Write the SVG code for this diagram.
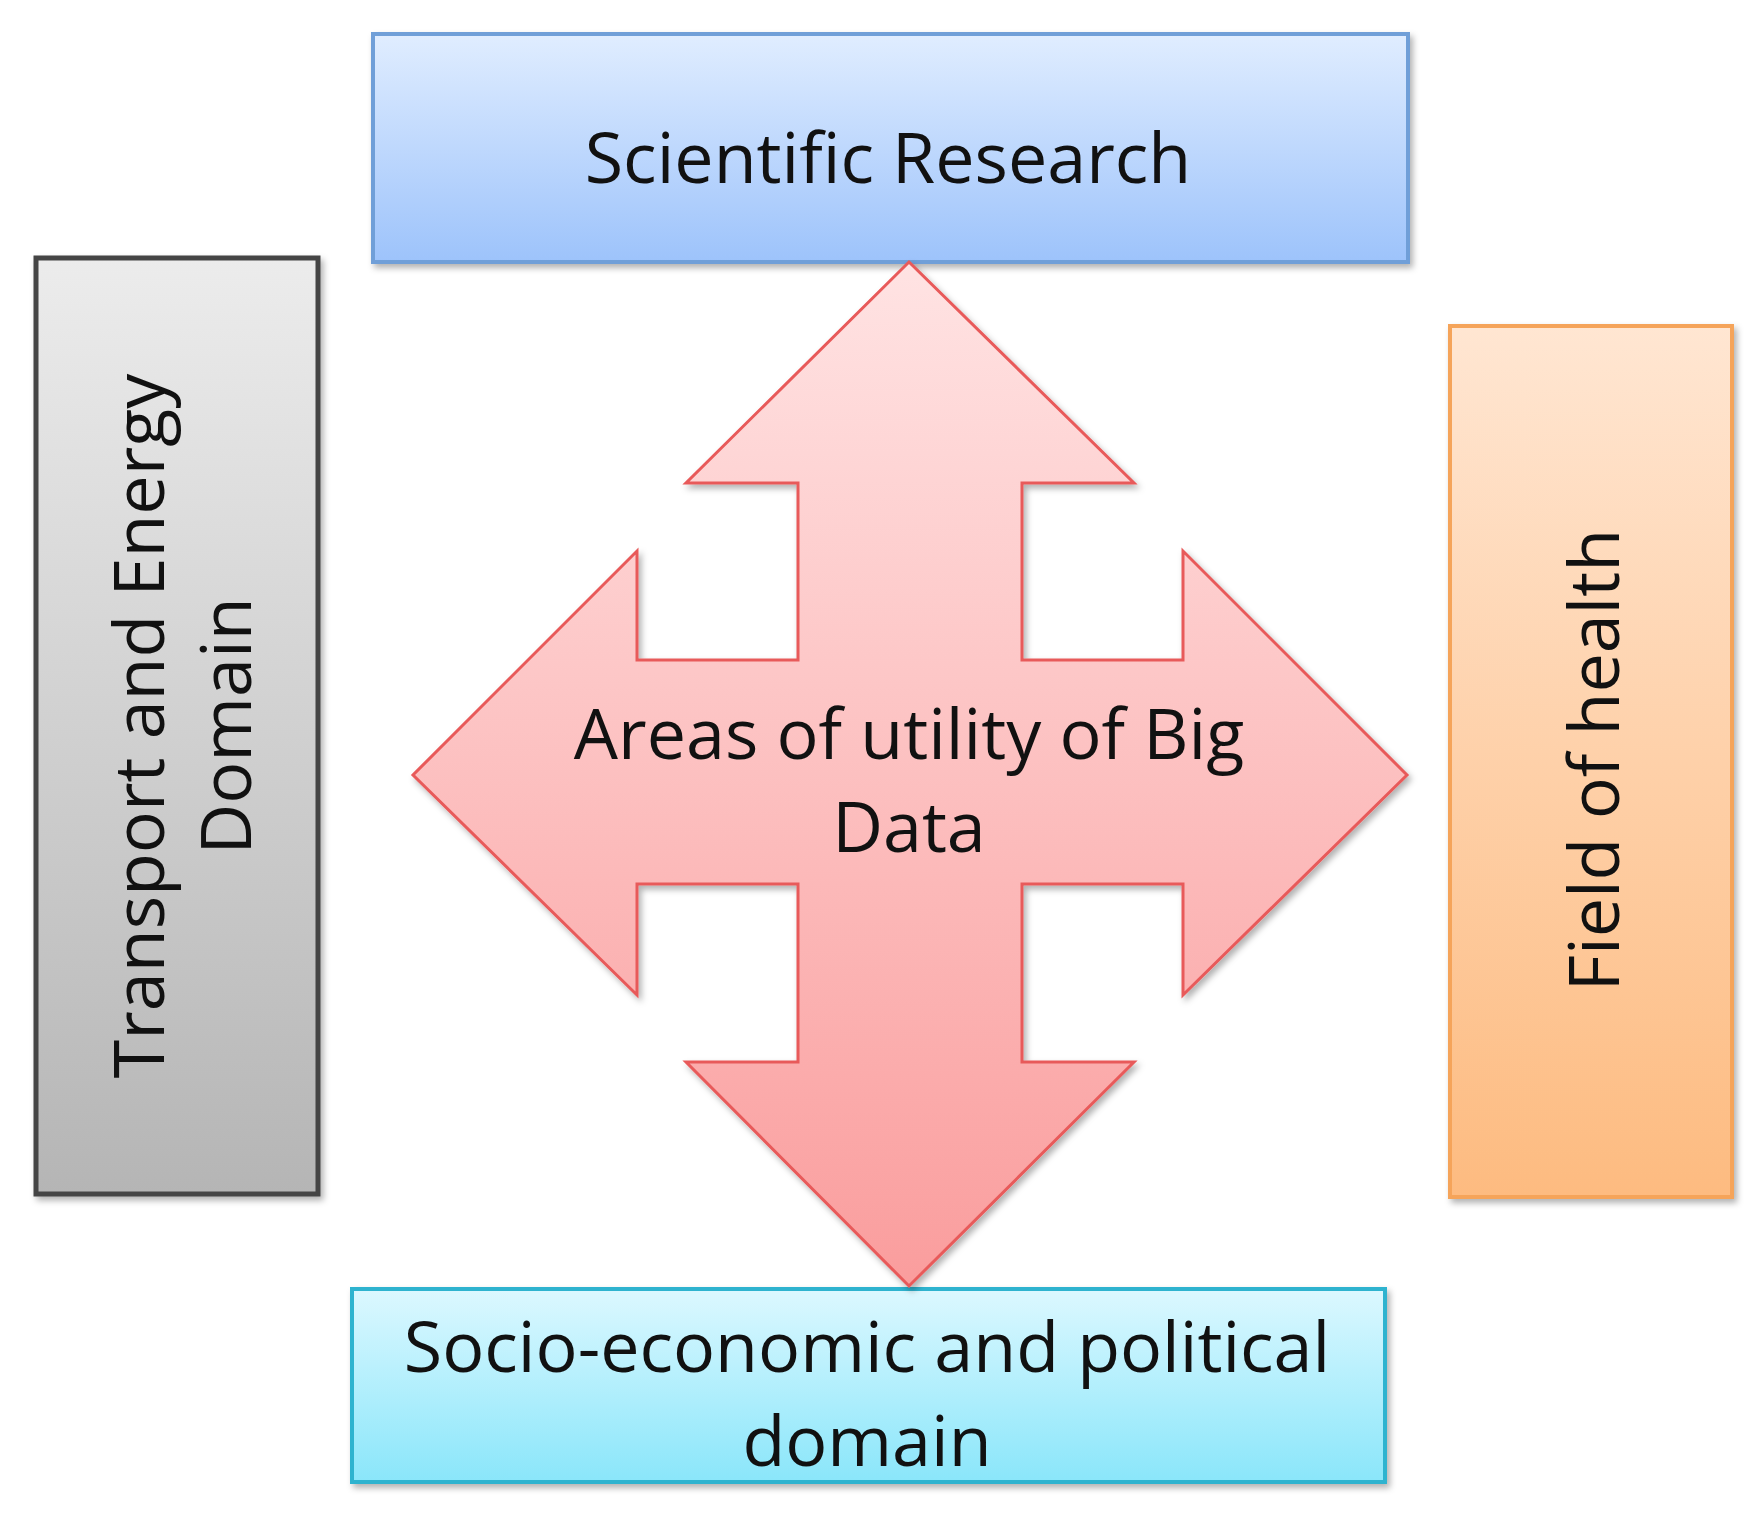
<svg xmlns="http://www.w3.org/2000/svg" width="1764" height="1517" viewBox="0 0 1764 1517">
<defs>
<linearGradient id="gB" x1="0" y1="0" x2="0" y2="1"><stop offset="0" stop-color="#e0edff"/><stop offset="1" stop-color="#9dc3fb"/></linearGradient>
<linearGradient id="gG" x1="0" y1="0" x2="0" y2="1"><stop offset="0" stop-color="#ececec"/><stop offset="1" stop-color="#b5b5b5"/></linearGradient>
<linearGradient id="gO" x1="0" y1="0" x2="0" y2="1"><stop offset="0" stop-color="#ffe6d2"/><stop offset="1" stop-color="#fdbb80"/></linearGradient>
<linearGradient id="gC" x1="0" y1="0" x2="0" y2="1"><stop offset="0" stop-color="#dcf8ff"/><stop offset="1" stop-color="#8ae6fa"/></linearGradient>
<linearGradient id="gR" x1="0" y1="0" x2="0" y2="1"><stop offset="0" stop-color="#ffe3e3"/><stop offset="1" stop-color="#fa9d9d"/></linearGradient>
<filter id="sh" x="-5%" y="-5%" width="115%" height="115%"><feDropShadow dx="3" dy="4" stdDeviation="3" flood-color="#000" flood-opacity="0.3"/></filter>
</defs>
<style>
text{font-family:"Open Sans","Liberation Sans",sans-serif;font-size:70px;fill:#111;text-anchor:middle}
</style>
<rect width="1764" height="1517" fill="#fff"/>
<g id="scientific"><rect x="373" y="34" width="1035" height="228" fill="url(#gB)" stroke="#6f9fd8" stroke-width="4" filter="url(#sh)"/><text x="888" y="183">Scientific Research</text></g>
<g id="transport"><rect x="36" y="258" width="282" height="936" fill="url(#gG)" stroke="#444" stroke-width="5" filter="url(#sh)"/><text transform="translate(164,726) rotate(-90)">Transport and Energy</text><text transform="translate(251,726) rotate(-90)">Domain</text></g>
<g id="health"><rect x="1450" y="326" width="282" height="871" fill="url(#gO)" stroke="#f5a45a" stroke-width="4" filter="url(#sh)"/><text transform="translate(1619,760) rotate(-90)">Field of health</text></g>
<g id="socio"><rect x="352" y="1289" width="1033" height="193" fill="url(#gC)" stroke="#2fb3cf" stroke-width="4" filter="url(#sh)"/><text x="867" y="1372">Socio-economic and political</text><text x="867" y="1466">domain</text></g>
<g id="center"><path d="M909,262 L1134,483 L1022,483 L1022,660 L1183,660 L1183,551 L1407,775 L1183,995 L1183,884 L1022,884 L1022,1062 L1134,1062 L909,1286 L686,1062 L798,1062 L798,884 L637,884 L637,995 L413,775 L637,551 L637,660 L798,660 L798,483 L686,483 Z" fill="url(#gR)" stroke="#e85a5a" stroke-width="3" filter="url(#sh)"/><text x="909" y="759">Areas of utility of Big</text><text x="909" y="852">Data</text></g>
<g id="connectors"/>
</svg>
